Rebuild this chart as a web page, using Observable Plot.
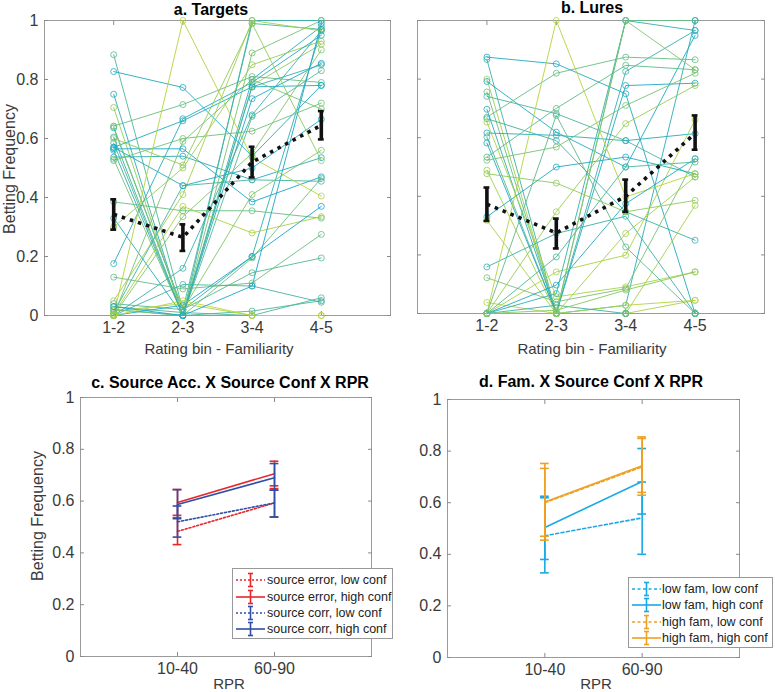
<!DOCTYPE html>
<html><head><meta charset="utf-8">
<script src="https://cdn.jsdelivr.net/npm/d3@7"></script>
<script src="https://cdn.jsdelivr.net/npm/@observablehq/plot@0.6"></script>
<style>
body{margin:0;background:#fff;}
#wrap{position:relative;width:775px;height:692px;font-family:"Liberation Sans",Arial,sans-serif;color:#3a3a3a;overflow:hidden;}
.abs{position:absolute;white-space:nowrap;}
.title{font-weight:bold;font-size:16px;color:#000;transform:translate(-50%,-50%);}
.xlab{font-size:15px;transform:translate(-50%,-50%);}
.ylab{font-size:16px;transform:translate(-50%,-50%) rotate(-90deg);}
.legend{border:1px solid #999;background:#fff;font-size:12.5px;color:#222;box-sizing:border-box;}
.legend .row{position:absolute;left:0;height:16px;line-height:16px;}
.legend svg{position:absolute;left:0;top:0;}
.legend span{position:absolute;top:0;}
</style></head><body><div id="wrap"></div><script>
// ---------- data ----------
const binLabels = ["1-2", "2-3", "3-4", "4-5"];
const rprLabels = ["10-40", "60-90"];
const yTicks = [0, 0.2, 0.4, 0.6, 0.8, 1];

// panel a: per-participant betting frequency per familiarity bin
const targets = [
[0.884,0.02,0.99,0.97],[0.827,0.773,0.54,0.78],[0.75,0.0,0.8,0.98],[0.705,0.0,0.78,0.92],
[0.642,0.715,0.81,0.79],[0.636,0.02,0.2,0.97],[0.605,0.0,1.0,1.0],[0.585,0.0,0.675,0.83],
[0.57,0.66,0.775,0.78],[0.565,0.565,0.385,0.47],[0.537,0.54,0.46,0.535],[0.53,0.0,0.89,1.0],
[0.525,0.6,0.625,0.72],[0.385,0.355,0.355,0.33],[0.33,0.0,0.735,0.855],[0.30,0.5,0.85,0.93],
[0.176,0.667,0.79,0.95],[0.13,0.09,0.11,0.275],[0.05,0.41,1.0,0.965],[0.04,0.02,0.145,0.195],
[0.03,0.01,0.0,0.06],[0.02,0.0,0.015,0.05],[0.015,0.04,0.0,0.0],[0.01,0.44,0.46,0.455],
[0.005,0.37,0.28,0.335],[0.0,0.035,0.2,0.37],[0.0,0.16,0.68,0.965],[0.0,0.105,0.1,0.045],
[0.0,1.0,0.535,0.405],[0.0,0.59,0.8,0.70],[0.57,0.44,0.5,0.665],[0.60,0.51,0.99,0.525],
[0.64,0.02,0.41,0.56],[0.0,0.335,0.55,0.9],[0.02,0.0,0.195,0.465],[0.0,0.05,0.0,0.0],
[0.56,0.0,0.775,0.85],[0.03,0.0,0.1,0.99]
];
const targetsShade = [0.3,0.05,0.1,0.7,0.45,0.15,0.2,0.35,0.05,0.0,0.1,0.55,0.5,0.45,0.05,0.75,0.1,0.45,0.8,0.35,
0.3,0.3,0.85,0.25,0.85,0.0,0.2,0.25,0.9,0.55,0.05,0.7,0.6,0.6,0.5,0.95,0.15,0.0];
const targetsMean = [0.343, 0.265, 0.52, 0.645];
const targetsLo = [0.291, 0.219, 0.468, 0.597];
const targetsHi = [0.394, 0.309, 0.572, 0.693];

// panel b
const lures = [
[0.875,0.852,0.75,0.0],[0.867,0.0,0.826,0.966],[0.80,0.0,0.0,0.0],[0.792,0.619,0.5,0.949],
[0.756,0.0,1.0,1.0],[0.741,0.682,0.59,0.466],[0.697,0.0,0.028,1.0],[0.67,0.82,0.875,0.866],
[0.665,0.59,0.347,0.25],[0.653,0.057,0.091,0.142],[0.616,0.608,0.59,0.614],[0.602,0.0,0.0,0.0],
[0.582,0.0,0.778,0.786],[0.534,0.7,0.847,0.832],[0.523,0.568,0.71,0.82],[0.489,0.0,0.0,0.369],
[0.477,0.445,0.347,0.386],[0.33,0.5,0.534,0.477],[0.318,0.0,0.0,0.045],[0.159,0.273,0.332,0.0],
[0.122,0.04,0.085,0.528],[0.0375,0.0,0.028,0.045],[0.0,0.347,0.648,0.778],[0.0,0.193,0.5,0.517],
[0.0,0.142,0.199,0.661],[0.0,0.028,0.0,0.0],[0.0,1.0,0.398,0.477],[0.0,0.097,0.375,0.528],
[0.0,0.676,0.227,0.0],[0.0,0.011,0.08,0.142],[0.0,0.068,1.0,0.966],[0.0,0.0,0.273,0.466],
[0.0,0.0,0.0,0.0],[0.0,0.0,1.0,0.832]
];
const luresShade = [0.05,0.2,0.8,0.05,0.45,0.3,0.1,0.45,0.2,0.85,0.1,0.35,0.05,0.4,0.55,0.8,0.7,0.05,0.85,0.2,
0.55,0.9,0.75,0.3,0.85,0.2,0.9,0.05,0.4,0.65,0.15,0.8,0.45,0.6];
const luresMean = [0.373, 0.275, 0.40, 0.615];
const luresLo = [0.316, 0.222, 0.347, 0.559];
const luresHi = [0.43, 0.324, 0.457, 0.676];

// panel c
const cNames = ["source error, low conf", "source error, high conf", "source corr, low conf", "source corr, high conf"];
const cColors = ["#e8262b", "#e8262b", "#2f4ea6", "#2f4ea6"];
const cDotted = [true, false, true, false];
const cMean = [[0.483, 0.593], [0.595, 0.706], [0.52, 0.593], [0.587, 0.69]];
const cLo = [[0.432, 0.538], [0.545, 0.659], [0.461, 0.539], [0.532, 0.642]];
const cHi = [[0.536, 0.648], [0.645, 0.754], [0.581, 0.642], [0.644, 0.745]];

// panel d
const dNames = ["low fam, low conf", "low fam, high conf", "high fam, low conf", "high fam, high conf"];
const dColors = ["#1aa9e6", "#1aa9e6", "#eda125", "#eda125"];
const dDotted = [true, false, true, false];
const dMean = [[0.472, 0.541], [0.504, 0.682], [0.60, 0.739], [0.603, 0.743]];
const dLo = [[0.328, 0.40], [0.38, 0.556], [0.47, 0.64], [0.455, 0.629]];
const dHi = [[0.619, 0.68], [0.625, 0.81], [0.733, 0.849], [0.752, 0.855]];

// ---------- helpers ----------
const wrap = document.getElementById("wrap");
const shadeColor = d3.interpolateRgb("#17a6c9", "#c4d92b");
const FONT = '"Liberation Sans", Arial, sans-serif';

function place(el, left, top) {
  el.style.position = "absolute"; el.style.left = left + "px"; el.style.top = top + "px";
  wrap.appendChild(el);
}
function label(cls, text, x, y) {
  const d = document.createElement("div");
  d.className = "abs " + cls; d.textContent = text;
  d.style.left = x + "px"; d.style.top = y + "px";
  wrap.appendChild(d);
}
function axes(xTicks, xFmt, showY, padY) {
  const ax = {stroke: "#8a8a8a", fill: "#3a3a3a", label: null, tickSize: -4, fontSize: 16};
  return [
    Plot.frame({stroke: "#9a9a9a"}),
    Plot.axisY({...ax, ticks: yTicks, tickPadding: padY, tickFormat: showY ? (d => String(d)) : (() => "")}),
    Plot.axisY({...ax, anchor: "right", ticks: yTicks, tickFormat: () => ""}),
    Plot.axisX({...ax, ticks: xTicks, tickPadding: 10, tickFormat: xFmt}),
    Plot.axisX({...ax, anchor: "top", ticks: xTicks, tickFormat: () => ""})
  ];
}

function spaghetti(parts, shades, mean, lo, hi, showY, dims) {
  const rows = [];
  parts.forEach((p, i) => p.forEach((v, j) => rows.push({id: i, x: j + 1, y: v, col: shadeColor(shades[i])})));
  const m = mean.map((v, j) => ({x: j + 1, y: v, lo: lo[j], hi: hi[j]}));
  return Plot.plot({
    width: dims.w, height: dims.h,
    marginLeft: dims.ml, marginRight: dims.mr, marginTop: dims.mt, marginBottom: dims.mb,
    x: {domain: [0, 5]}, y: {domain: [0, 1]},
    color: {type: "identity"},
    style: {fontFamily: FONT, fontSize: "16px", background: "transparent", overflow: "visible"},
    marks: [
      ...axes([1, 2, 3, 4], d => binLabels[d - 1], showY, 10),
      Plot.line(rows, {x: "x", y: "y", z: "id", stroke: "col", strokeWidth: 0.9}),
      Plot.dot(rows, {x: "x", y: "y", stroke: "col", r: 3, strokeWidth: 0.8, fill: "none"}),
      Plot.line(m, {x: "x", y: "y", stroke: "#111", strokeWidth: 3.6, strokeDasharray: "3.5,5", strokeLinecap: "butt"}),
      Plot.ruleX(m, {x: "x", y1: "lo", y2: "hi", stroke: "#111", strokeWidth: 3.6}),
      Plot.ruleY(m, {y: "lo", x1: d => d.x - 0.042, x2: d => d.x + 0.042, stroke: "#111", strokeWidth: 2.6}),
      Plot.ruleY(m, {y: "hi", x1: d => d.x - 0.042, x2: d => d.x + 0.042, stroke: "#111", strokeWidth: 2.6})
    ]
  });
}

function interaction(names, colors, dotted, mean, lo, hi, dash, dims) {
  const marks = [...axes([1, 2], d => rprLabels[d - 1], true, 10)];
  names.forEach((n, i) => {
    const rows = mean[i].map((v, j) => ({x: j + 1, y: v, lo: lo[i][j], hi: hi[i][j]}));
    const da = dotted[i] ? dash : null;
    marks.push(Plot.line(rows, {x: "x", y: "y", stroke: colors[i], strokeWidth: 1.6, strokeDasharray: da}));
    marks.push(Plot.ruleX(rows, {x: "x", y1: "lo", y2: "hi", stroke: colors[i], strokeWidth: 1.6}));
    marks.push(Plot.ruleY(rows, {y: "lo", x1: d => d.x - 0.045, x2: d => d.x + 0.045, stroke: colors[i], strokeWidth: 1.6}));
    marks.push(Plot.ruleY(rows, {y: "hi", x1: d => d.x - 0.045, x2: d => d.x + 0.045, stroke: colors[i], strokeWidth: 1.6}));
  });
  return Plot.plot({
    width: dims.w, height: dims.h,
    marginLeft: dims.ml, marginRight: dims.mr, marginTop: dims.mt, marginBottom: dims.mb,
    x: {domain: [0, 3]}, y: {domain: [0, 1]},
    style: {fontFamily: FONT, fontSize: "16px", background: "transparent", overflow: "visible"},
    marks
  });
}

function legend(names, colors, dotted, dash, box, rowsY, textX) {
  const div = document.createElement("div");
  div.className = "legend";
  div.style.position = "absolute";
  div.style.left = box.x + "px"; div.style.top = box.y + "px";
  div.style.width = box.w + "px"; div.style.height = box.h + "px";
  names.forEach((n, i) => {
    const r = document.createElement("div");
    r.className = "row";
    r.style.top = (rowsY[i] - box.y - 8) + "px";
    r.style.width = (box.w - 2) + "px";
    const da = dotted[i] ? `stroke-dasharray="${dash}"` : "";
    r.innerHTML = `<svg width="40" height="16"><line x1="3" x2="32" y1="8" y2="8" stroke="${colors[i]}" stroke-width="1.6" ${da}/>` +
      `<line x1="17.5" x2="17.5" y1="1.5" y2="14.5" stroke="${colors[i]}" stroke-width="1.6"/>` +
      `<line x1="15" x2="20" y1="1.5" y2="1.5" stroke="${colors[i]}" stroke-width="1.6"/>` +
      `<line x1="15" x2="20" y1="14.5" y2="14.5" stroke="${colors[i]}" stroke-width="1.6"/></svg>` +
      `<span style="left:${textX}px">${n}</span>`;
    div.appendChild(r);
  });
  wrap.appendChild(div);
}

// ---------- panels ----------
place(spaghetti(targets, targetsShade, targetsMean, targetsLo, targetsHi, true,
  {w: 395, h: 345, ml: 44, mr: 5, mt: 20, mb: 30}), 0, 0);
place(spaghetti(lures, luresShade, luresMean, luresLo, luresHi, false,
  {w: 390, h: 345, ml: 32, mr: 11, mt: 20, mb: 32}), 385, 0);
place(interaction(cNames, cColors, cDotted, cMean, cLo, cHi, "2,2",
  {w: 395, h: 290, ml: 80, mr: 24, mt: 7, mb: 24}), 0, 390);
place(interaction(dNames, dColors, dDotted, dMean, dLo, dHi, "3,2.5",
  {w: 390, h: 290, ml: 62, mr: 36, mt: 9, mb: 23}), 385, 390);

label("title", "a. Targets", 211, 10);
label("title", "b. Lures", 592, 8);
label("title", "c. Source Acc. X Source Conf X RPR", 230, 383);
label("title", "d. Fam. X Source Conf X RPR", 591, 382);
label("xlab", "Rating bin - Familiarity", 219, 348);
label("xlab", "Rating bin - Familiarity", 592, 348);
label("xlab", "RPR", 229, 683);
label("xlab", "RPR", 596, 683);
label("ylab", "Betting Frequency", 10, 169);
label("ylab", "Betting Frequency", 38, 516);

legend(cNames, cColors, cDotted, "2,2", {x: 232, y: 568, w: 161, h: 71}, [579, 596, 612, 628], 34);
legend(dNames, dColors, dDotted, "3,2.5", {x: 628, y: 577, w: 145, h: 71}, [588, 604, 621, 637], 33);
</script></body></html>
